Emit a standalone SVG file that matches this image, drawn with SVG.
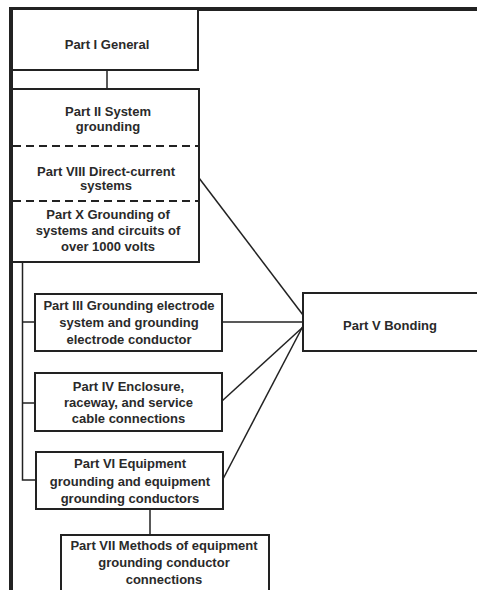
<svg xmlns="http://www.w3.org/2000/svg" width="477" height="590" viewBox="0 0 477 590">
  <style>
    .box { fill: #ffffff; stroke: #222222; stroke-width: 2; }
    .frame { fill: none; stroke: #222222; stroke-width: 4; }
    .link { fill: none; stroke: #222222; stroke-width: 1.5; }
    .divider { fill: none; stroke: #222222; stroke-width: 2; stroke-dasharray: 8 5; }
    text { font-family: "Liberation Sans", Arial, Helvetica, sans-serif; font-size: 13px; font-weight: bold; fill: #2a2a2a; text-anchor: middle; }
  </style>
  <rect x="0" y="0" width="477" height="590" fill="#ffffff"/>

  <!-- page border: top rule and left spine -->
  <g id="frame">
    <line class="frame" x1="9" y1="9" x2="477" y2="9"/>
    <line class="frame" x1="11" y1="7" x2="11" y2="590"/>
  </g>

  <!-- connectors -->
  <g id="connectors">
    <line class="link" x1="107" y1="70" x2="107" y2="89"/>
    <polyline class="link" points="22.5,262 22.5,480 36,480"/>
    <line class="link" x1="22.5" y1="322" x2="35" y2="322"/>
    <line class="link" x1="22.5" y1="403" x2="35" y2="403"/>
    <line class="link" x1="150" y1="509" x2="150" y2="535"/>
    <line class="link" x1="199" y1="178" x2="303" y2="315"/>
    <line class="link" x1="222" y1="322" x2="303" y2="322"/>
    <line class="link" x1="222" y1="401" x2="303" y2="327"/>
    <line class="link" x1="223" y1="479" x2="303" y2="326"/>
  </g>

  <g id="part-i">
    <rect class="box" x="12" y="9" width="186" height="61"/>
    <text x="107" y="49">Part I General</text>
  </g>

  <!-- combined block: Parts II, VIII and X share one box -->
  <g id="system-block">
    <rect class="box" x="12" y="89" width="187" height="173"/>
    <line class="divider" x1="13" y1="146" x2="198" y2="146"/>
    <line class="divider" x1="13" y1="201" x2="198" y2="201"/>
    <g id="part-ii">
      <text x="108" y="116">Part II System</text>
      <text x="108" y="131">grounding</text>
    </g>
    <g id="part-viii">
      <text x="106" y="176">Part VIII Direct-current</text>
      <text x="106" y="190">systems</text>
    </g>
    <g id="part-x">
      <text x="108" y="219">Part X Grounding of</text>
      <text x="108" y="234.5">systems and circuits of</text>
      <text x="108" y="250.5">over 1000 volts</text>
    </g>
  </g>

  <g id="part-iii">
    <rect class="box" x="35" y="294" width="187" height="57"/>
    <text x="129" y="310">Part III Grounding electrode</text>
    <text x="129" y="327">system and grounding</text>
    <text x="129" y="344">electrode conductor</text>
  </g>

  <g id="part-iv">
    <rect class="box" x="35" y="373" width="187" height="58"/>
    <text x="128.5" y="391">Part IV Enclosure,</text>
    <text x="128.5" y="407">raceway, and service</text>
    <text x="128.5" y="423">cable connections</text>
  </g>

  <g id="part-vi">
    <rect class="box" x="36" y="452" width="187" height="57"/>
    <text x="130" y="468">Part VI Equipment</text>
    <text x="130" y="486">grounding and equipment</text>
    <text x="130" y="503">grounding conductors</text>
  </g>

  <g id="part-vii">
    <rect class="box" x="61" y="535" width="208" height="62"/>
    <text x="164" y="550">Part VII Methods of equipment</text>
    <text x="164" y="567">grounding conductor</text>
    <text x="164" y="584">connections</text>
  </g>

  <g id="part-v">
    <rect class="box" x="303" y="293" width="180" height="58"/>
    <text x="390" y="330">Part V Bonding</text>
  </g>
</svg>
